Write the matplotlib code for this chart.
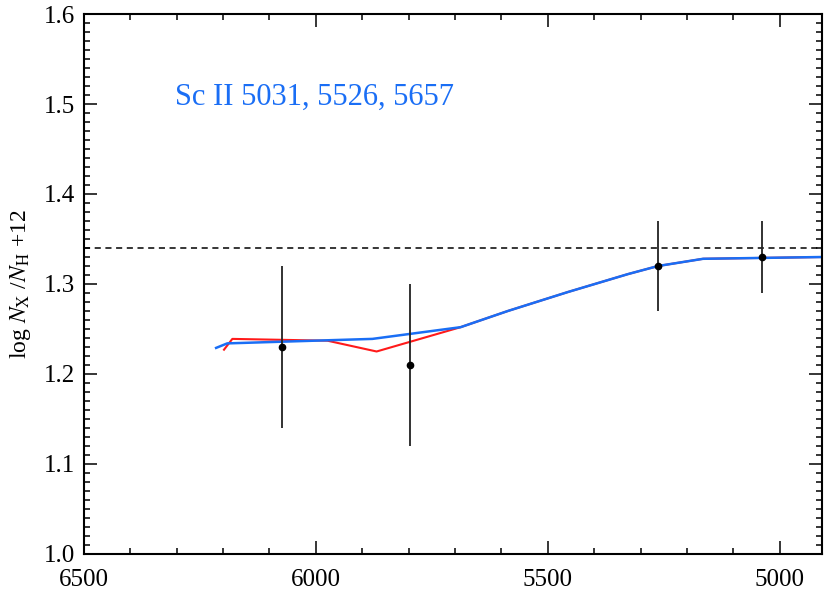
import numpy as np
import matplotlib
matplotlib.use("Agg")
import matplotlib.pyplot as plt
from matplotlib.ticker import MultipleLocator

plt.rcParams["font.family"] = ["Liberation Serif", "DejaVu Serif"]
plt.rcParams["mathtext.fontset"] = "stix"

# =========================
# Data
# =========================
obs_wave = [6072, 5798, 5262, 5038]
obs_abund = [1.23, 1.21, 1.32, 1.33]
obs_err = [0.09, 0.09, 0.05, 0.04]

blue_wave = [6215, 6191, 5878, 5688, 5586, 5457, 5327, 5262, 5165, 4906]
blue_abund = [1.229, 1.234, 1.239, 1.252, 1.270, 1.291, 1.311, 1.320, 1.328, 1.330]

red_wave = [6198, 6180, 5975, 5869, 5688, 5586, 5457, 5327, 5262, 5165, 4906]
red_abund = [1.227, 1.239, 1.237, 1.225, 1.252, 1.270, 1.291, 1.311, 1.320, 1.328, 1.330]

mean_abund = 1.34
label_text = "Sc II 5031, 5526, 5657"

# =========================
# Plot
# =========================
fig = plt.figure(figsize=(8.31, 5.96), dpi=100)
ax = fig.add_axes([0.101, 0.0705, 0.888, 0.906])

ax.axhline(mean_abund, color="black", linestyle=(0, (4, 3)), linewidth=1.1)
ax.plot(red_wave, red_abund, color="#ff1a1a", linewidth=1.5)
ax.plot(blue_wave, blue_abund, color="#1a6ef5", linewidth=1.8)
ax.errorbar(obs_wave, obs_abund, yerr=obs_err, fmt="o", color="black",
            ecolor="#222222", elinewidth=1.3, markersize=4.5, capsize=0)

ax.text(6303, 1.507, label_text, color="#1a6ef5", fontsize=22,
        ha="left", va="center")

ax.set_xlim(6500, 4909)
ax.set_ylim(1.0, 1.6)
ax.xaxis.set_major_locator(MultipleLocator(500))
ax.xaxis.set_minor_locator(MultipleLocator(100))
ax.yaxis.set_major_locator(MultipleLocator(0.1))
ax.yaxis.set_minor_locator(MultipleLocator(0.01))
ax.yaxis.set_major_formatter(matplotlib.ticker.FormatStrFormatter("%.1f"))

ax.tick_params(which="both", direction="in", top=True, right=True,
               labelsize=18, width=1.1)
ax.tick_params(axis="x", which="major", pad=11)
ax.tick_params(axis="y", which="major", pad=6)
ax.tick_params(which="major", length=9.5)
ax.tick_params(which="minor", length=4.5)
for sp in ax.spines.values():
    sp.set_linewidth(1.5)

ax.set_ylabel(r"log $N_{\mathrm{X}}$ /$N_{\mathrm{H}}$ +12", fontsize=17, labelpad=8)

fig.savefig("out.png", dpi=100)
